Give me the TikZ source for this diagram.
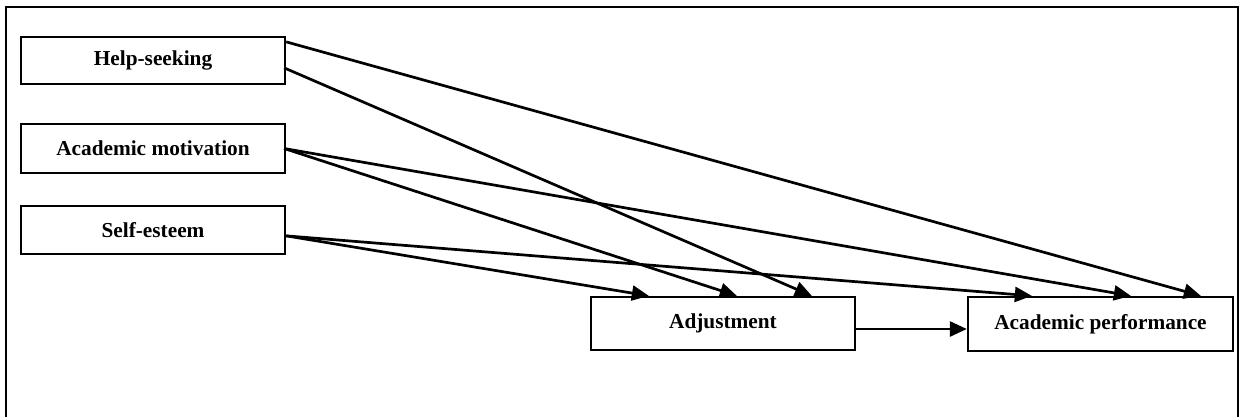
\documentclass[tikz,border=0pt]{standalone}
\usepackage{fontspec}
\setmainfont{Liberation Serif}
\usetikzlibrary{arrows.meta,calc}
\begin{document}
\begin{tikzpicture}[x=1pt,y=-1pt,
  box/.style={draw,line width=2.3pt,inner sep=0pt,minimum width=264pt,
    font=\fontsize{21.3}{25}\selectfont\bfseries},
  link/.style={line width=2.7pt,-{Triangle[length=17pt,width=15pt]}},
  frame/.style={line width=2.8pt}]
\useasboundingbox (0,0) rectangle (1240,416);
\draw[frame] (6,417) -- (6,7) -- (1238,7) -- (1238,417);
\node[box,minimum height=47pt] (hs) at (153,60.5) {\raisebox{-1pt}{Help-seeking}};
\node[box,minimum height=49pt] (am) at (153,148.5) {Academic motivation};
\node[box,minimum height=48pt] (se) at (153,230) {\raisebox{1pt}{Self-esteem}};
\node[box,minimum height=53pt] (adj) at (723,323.5) {\raisebox{2pt}{Adjustment}};
\node[box,minimum width=265pt,minimum height=54pt] (ap) at (1100.5,324) {\raisebox{4pt}{Academic performance}};
\coordinate (hs1) at ($(hs.north east)+(0,6)$);
\coordinate (hs2) at ($(hs.north east)+(-2,32)$);
\coordinate (am1) at ($(am.east)+(-2,0)$);
\coordinate (se1) at ($(se.north east)+(0,31)$);
\draw[link] (hs1) -- ($(ap.north west)+(234,0)$);
\draw[link] (hs2) -- ($(adj.north west)+(222,0)$);
\draw[link] (am1) -- ($(ap.north west)+(164,0)$);
\draw[link] (am1) -- ($(adj.north west)+(147,0)$);
\draw[link] (se1) -- ($(adj.north west)+(59,0)$);
\draw[link] (se1) -- ($(ap.north west)+(65,0)$);
\draw[link] ($(adj.east)+(0,5.5)$) -- ($(ap.west)+(0,5)$);
\end{tikzpicture}
\end{document}
